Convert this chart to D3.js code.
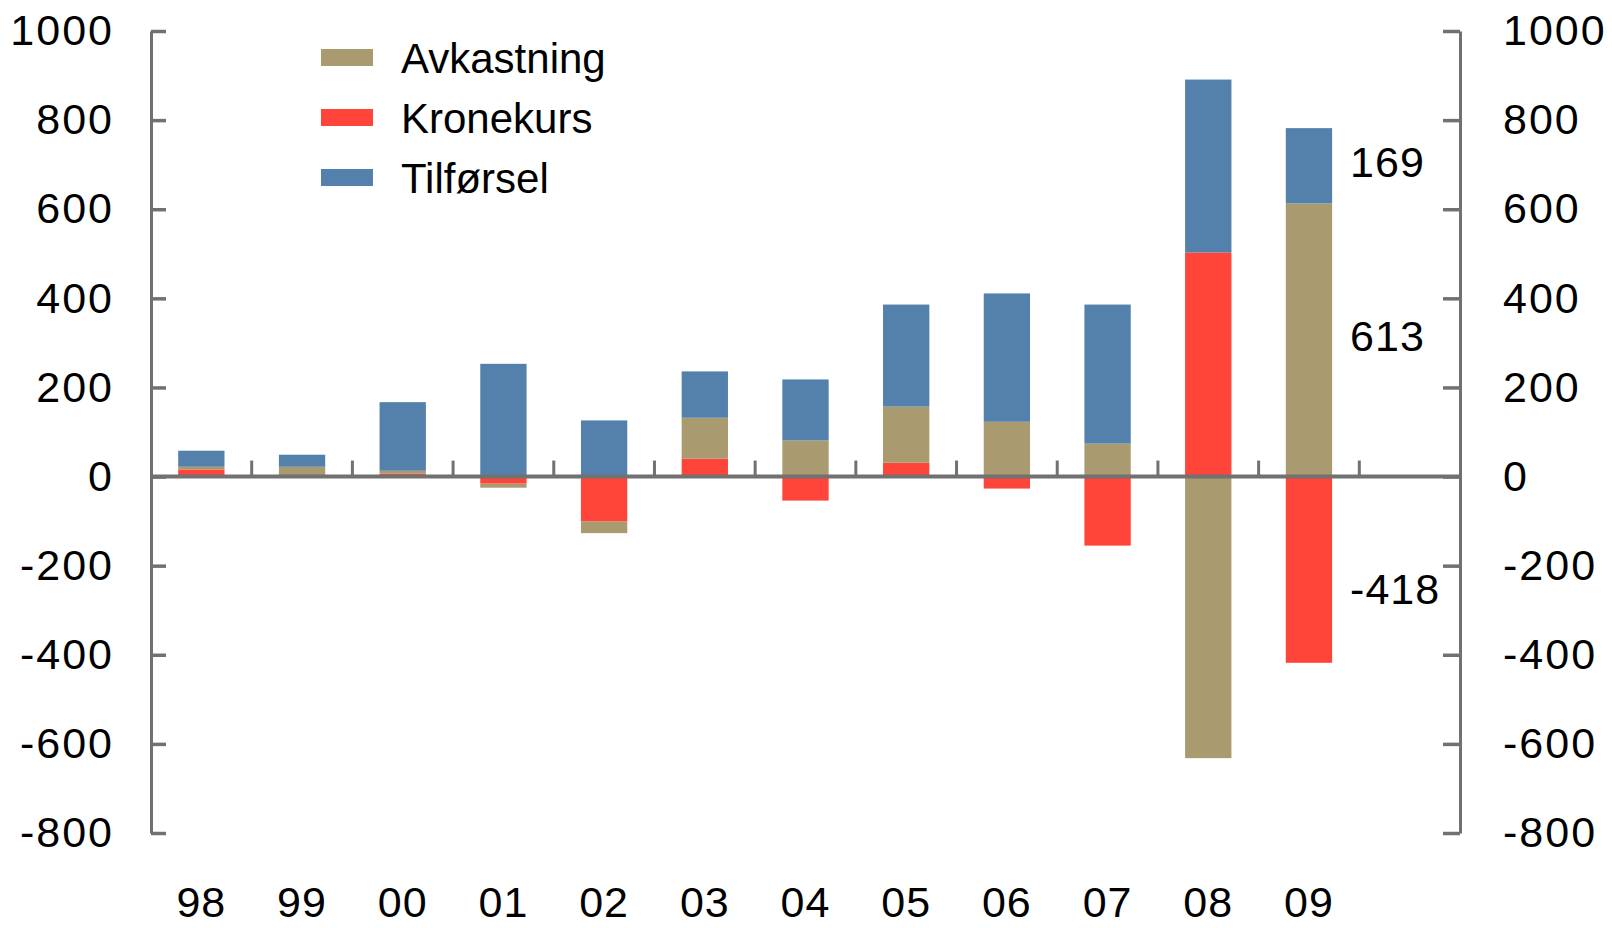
<!DOCTYPE html>
<html>
<head>
<meta charset="utf-8">
<script src="https://cdn.jsdelivr.net/npm/d3@7"></script>
<style>
  html, body { margin: 0; padding: 0; background: #fff; }
  svg { display: block; font-family: "Liberation Sans", Arial, sans-serif; }
</style>
</head>
<body>
<svg id="chart"></svg>
<script>
// years on the x axis
const years = ["98", "99", "00", "01", "02", "03", "04", "05", "06", "07", "08", "09"];

// series, in stacking order (closest to zero first)
const kronekurs  = [16, 0, 7, -16, -101, 40, -54, 31, -27, -155, 503, -418];
const avkastning = [6, 22, 6, -9, -26, 92, 81, 126, 123, 74, -632, 613];
const tilforsel  = [36, 27, 154, 253, 126, 104, 137, 229, 288, 312, 388, 169];

const seriesKeys = ["Kronekurs", "Avkastning", "Tilførsel"];
const legendKeys = ["Avkastning", "Kronekurs", "Tilførsel"];
const yTicks = [-800, -600, -400, -200, 0, 200, 400, 600, 800, 1000];

// value labels written next to the 09 bar
const notes = [
  { year: "09", key: "Tilførsel", text: "169" },
  { year: "09", key: "Avkastning", text: "613" },
  { year: "09", key: "Kronekurs", text: "-418" }
];

const width = 1612, height = 928;
const plotLeft = 151, plotRight = 1460, plotTop = 31, plotBottom = 833;

const color = d3.scaleOrdinal()
    .domain(["Avkastning", "Kronekurs", "Tilførsel"])
    .range(["#a99b6f", "#ff443a", "#5381ac"]);

const table = years.map((y, i) => ({
    year: y,
    "Kronekurs": kronekurs[i],
    "Avkastning": avkastning[i],
    "Tilførsel": tilforsel[i]
}));

const stacked = d3.stack()
    .keys(seriesKeys)
    .offset(d3.stackOffsetDiverging)(table);

// 13 slots along the axis, the last one left empty
const step = (plotRight - plotLeft) / (years.length + 1);
const x = d3.scaleBand()
    .domain(years)
    .range([plotLeft, plotLeft + step * years.length])
    .paddingInner(0.54)
    .paddingOuter(0.27);

const y = d3.scaleLinear().domain([-800, 1000]).range([plotBottom, plotTop]);

const svg = d3.select("#chart")
    .attr("width", width)
    .attr("height", height)
    .attr("viewBox", [0, 0, width, height]);

// bars
svg.append("g")
    .selectAll("g")
    .data(stacked)
    .join("g")
    .attr("fill", d => color(d.key))
    .selectAll("rect")
    .data(d => d)
    .join("rect")
    .attr("x", d => x(d.data.year))
    .attr("width", x.bandwidth())
    .attr("y", d => y(Math.max(d[0], d[1])))
    .attr("height", d => Math.abs(y(d[0]) - y(d[1])));

const axisColor = "#717171";
const fmt = d => String(d);

// left axis
const yLeft = svg.append("g")
    .attr("transform", `translate(${plotLeft},0)`)
    .call(d3.axisLeft(y).tickValues(yTicks).tickFormat(fmt)
        .tickSizeInner(-15).tickSizeOuter(0).tickPadding(37));

// right axis
const yRight = svg.append("g")
    .attr("transform", `translate(${plotRight},0)`)
    .call(d3.axisRight(y).tickValues(yTicks).tickFormat(fmt)
        .tickSizeInner(-17).tickSizeOuter(0).tickPadding(43));

[yLeft, yRight].forEach(g => {
    g.select(".domain").attr("stroke", axisColor).attr("stroke-width", 3);
    g.selectAll(".tick line").attr("stroke", axisColor).attr("stroke-width", 3.5);
    g.selectAll(".tick text")
        .attr("fill", "#000")
        .attr("font-size", 43)
        .attr("letter-spacing", 2)
        .attr("font-family", "'Liberation Sans', Arial, sans-serif");
});

// zero line with small ticks between categories
svg.append("line")
    .attr("x1", plotLeft).attr("x2", plotRight)
    .attr("y1", y(0)).attr("y2", y(0))
    .attr("stroke", axisColor)
    .attr("stroke-width", 4);

svg.append("g")
    .selectAll("line")
    .data(years)
    .join("line")
    .attr("x1", d => x(d) + x.bandwidth() + (x.step() - x.bandwidth()) / 2)
    .attr("x2", d => x(d) + x.bandwidth() + (x.step() - x.bandwidth()) / 2)
    .attr("y1", y(0))
    .attr("y2", y(0) - 16)
    .attr("stroke", axisColor)
    .attr("stroke-width", 3);

// category labels
svg.append("g")
    .selectAll("text")
    .data(years)
    .join("text")
    .attr("x", d => x(d) + x.bandwidth() / 2)
    .attr("y", 917)
    .attr("text-anchor", "middle")
    .attr("font-size", 43)
    .attr("letter-spacing", 1)
    .text(d => d);

// legend
const legend = svg.append("g")
    .selectAll("g")
    .data(legendKeys)
    .join("g")
    .attr("transform", (d, i) => `translate(321,${58 + i * 60})`);

legend.append("rect")
    .attr("x", 0).attr("y", -9)
    .attr("width", 52).attr("height", 17)
    .attr("fill", d => color(d));

legend.append("text")
    .attr("x", 80)
    .attr("y", 0)
    .attr("dy", "0.35em")
    .attr("font-size", 42)
    .text(d => d);

// value notes next to the last bar
const segOf = n => {
    const s = stacked.find(s => s.key === n.key);
    return s[years.indexOf(n.year)];
};

svg.append("g")
    .selectAll("text")
    .data(notes)
    .join("text")
    .attr("x", d => x(d.year) + x.bandwidth() + 18)
    .attr("y", d => {
        const s = segOf(d);
        const mid = (s[0] + s[1]) / 2;
        return y(mid) + (mid < 0 ? 19 : -4);
    })
    .attr("dy", "0.35em")
    .attr("font-size", 43)
    .attr("letter-spacing", 1)
    .text(d => d.text);
</script>
</body>
</html>
